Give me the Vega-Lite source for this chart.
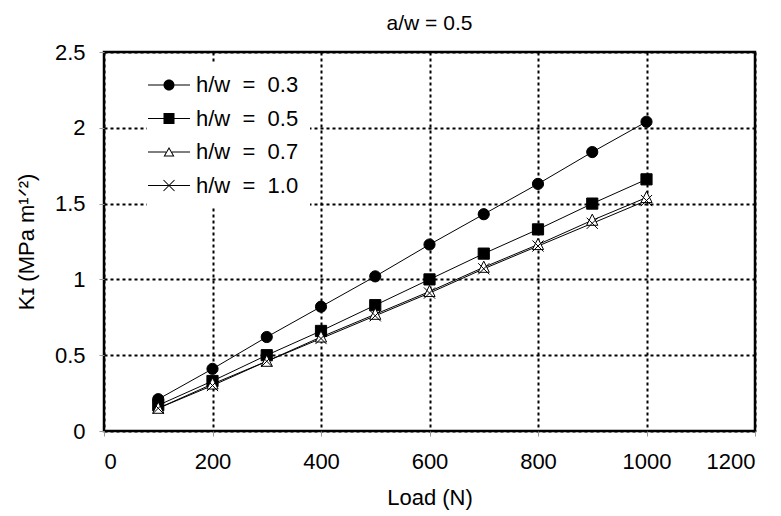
{
  "$schema": "https://vega.github.io/schema/vega-lite/v6.json",
  "width": 651,
  "height": 379,
  "autosize": "none",
  "padding": {"left": 104, "top": 52, "right": 26, "bottom": 85},
  "background": "white",
  "title": {"text": "a/w = 0.5", "fontSize": 21, "font": "Liberation Sans", "fontWeight": "normal", "color": "black", "offset": 7},
  "config": {
    "view": {"stroke": "black", "strokeWidth": 2.5},
    "axis": {
      "labelFont": "Liberation Sans", "labelFontSize": 22, "labelColor": "black",
      "titleFont": "Liberation Sans", "titleFontSize": 22, "titleFontWeight": "normal", "titleColor": "black",
      "tickColor": "#999999", "tickSize": 5, "tickWidth": 1, "domain": false,
      "grid": true, "gridColor": "black", "gridDash": [3, 3], "gridWidth": 2, "gridOpacity": 1
    }
  },
  "data": {"values": [
    {"load": 100, "k": 0.21, "hw": "0.3"}, {"load": 200, "k": 0.41, "hw": "0.3"}, {"load": 300, "k": 0.62, "hw": "0.3"}, {"load": 400, "k": 0.82, "hw": "0.3"}, {"load": 500, "k": 1.02, "hw": "0.3"},
    {"load": 600, "k": 1.23, "hw": "0.3"}, {"load": 700, "k": 1.43, "hw": "0.3"}, {"load": 800, "k": 1.63, "hw": "0.3"}, {"load": 900, "k": 1.84, "hw": "0.3"}, {"load": 1000, "k": 2.04, "hw": "0.3"},
    {"load": 100, "k": 0.17, "hw": "0.5"}, {"load": 200, "k": 0.33, "hw": "0.5"}, {"load": 300, "k": 0.50, "hw": "0.5"}, {"load": 400, "k": 0.66, "hw": "0.5"}, {"load": 500, "k": 0.83, "hw": "0.5"},
    {"load": 600, "k": 1.00, "hw": "0.5"}, {"load": 700, "k": 1.17, "hw": "0.5"}, {"load": 800, "k": 1.33, "hw": "0.5"}, {"load": 900, "k": 1.50, "hw": "0.5"}, {"load": 1000, "k": 1.66, "hw": "0.5"},
    {"load": 100, "k": 0.15, "hw": "0.7"}, {"load": 200, "k": 0.31, "hw": "0.7"}, {"load": 300, "k": 0.46, "hw": "0.7"}, {"load": 400, "k": 0.62, "hw": "0.7"}, {"load": 500, "k": 0.77, "hw": "0.7"},
    {"load": 600, "k": 0.92, "hw": "0.7"}, {"load": 700, "k": 1.08, "hw": "0.7"}, {"load": 800, "k": 1.23, "hw": "0.7"}, {"load": 900, "k": 1.39, "hw": "0.7"}, {"load": 1000, "k": 1.54, "hw": "0.7"},
    {"load": 100, "k": 0.15, "hw": "1.0"}, {"load": 200, "k": 0.30, "hw": "1.0"}, {"load": 300, "k": 0.46, "hw": "1.0"}, {"load": 400, "k": 0.61, "hw": "1.0"}, {"load": 500, "k": 0.76, "hw": "1.0"},
    {"load": 600, "k": 0.91, "hw": "1.0"}, {"load": 700, "k": 1.07, "hw": "1.0"}, {"load": 800, "k": 1.22, "hw": "1.0"}, {"load": 900, "k": 1.37, "hw": "1.0"}, {"load": 1000, "k": 1.52, "hw": "1.0"}
  ]},
  "encoding": {
    "x": {"field": "load", "type": "quantitative", "title": "Load (N)",
      "scale": {"domain": [0, 1200]},
      "axis": {"values": [0, 200, 400, 600, 800, 1000, 1200], "format": "d", "labelPadding": 15, "titlePadding": 15}},
    "y": {"field": "k", "type": "quantitative", "title": "Kɪ (MPa m¹ᐟ²)",
      "scale": {"domain": [0, 2.5]},
      "axis": {"values": [0, 0.5, 1, 1.5, 2, 2.5], "format": "~g", "labelPadding": 14, "titlePadding": 16}}
  },
  "layer": [
    {"mark": {"type": "line", "color": "black", "strokeWidth": 1},
     "encoding": {"detail": {"field": "hw", "type": "nominal"}}},
    {"mark": {"type": "point", "filled": true, "stroke": "black", "strokeWidth": 1, "size": 125, "opacity": 1},
     "encoding": {
       "shape": {"field": "hw", "type": "nominal",
         "scale": {"domain": ["0.3", "0.5", "0.7", "1.0"], "range": ["circle", "square", "M0,-1.1L1,0.9H-1Z", "M-1,-1L1,1M-1,1L1,-1"]},
         "legend": null},
       "fill": {"condition": {"test": "datum.hw === '0.3' || datum.hw === '0.5'", "value": "black"}, "value": "white"}
     }},
    {"mark": {"type": "point", "filled": true, "color": "black", "opacity": 0},
     "encoding": {
       "shape": {"field": "hw", "type": "nominal",
         "scale": {"domain": ["0.3", "0.5", "0.7", "1.0"], "range": [
           "M-2.1,-0.05H2.1V0.05H-2.1ZM0.55,0A0.55,0.55,0,1,1,-0.55,0A0.55,0.55,0,1,1,0.55,0Z",
           "M-2.1,-0.05H2.1V0.05H-2.1ZM-0.55,-0.55H0.55V0.55H-0.55Z",
           "M-2.1,-0.05H-0.3V0.05H-2.1ZM0.3,-0.05H2.1V0.05H0.3ZM0,-0.5L0.55,0.45L-0.55,0.45ZM0,-0.301L-0.377,0.35L0.377,0.35Z",
           "M-2.1,-0.05H2.1V0.05H-2.1ZM-0.515,-0.585L0.585,0.515L0.515,0.585L-0.585,-0.515ZM-0.585,0.515L0.515,-0.585L0.585,-0.515L-0.515,0.585Z"
         ]},
         "legend": {
           "orient": "none", "legendX": 43, "legendY": 11, "title": null, "padding": 11, "fillColor": "white",
           "symbolSize": 400, "symbolOpacity": 1, "symbolFillColor": "black", "symbolStrokeWidth": 0,
           "labelFont": "Liberation Sans", "labelFontSize": 22, "labelColor": "black", "rowPadding": 11.5, "labelOffset": 16,
           "labelExpr": "'h/w\u00a0 =\u00a0 ' + datum.label"
         }}
     }}
  ],
  "resolve": {"scale": {"shape": "independent"}, "legend": {"shape": "independent"}}
}
